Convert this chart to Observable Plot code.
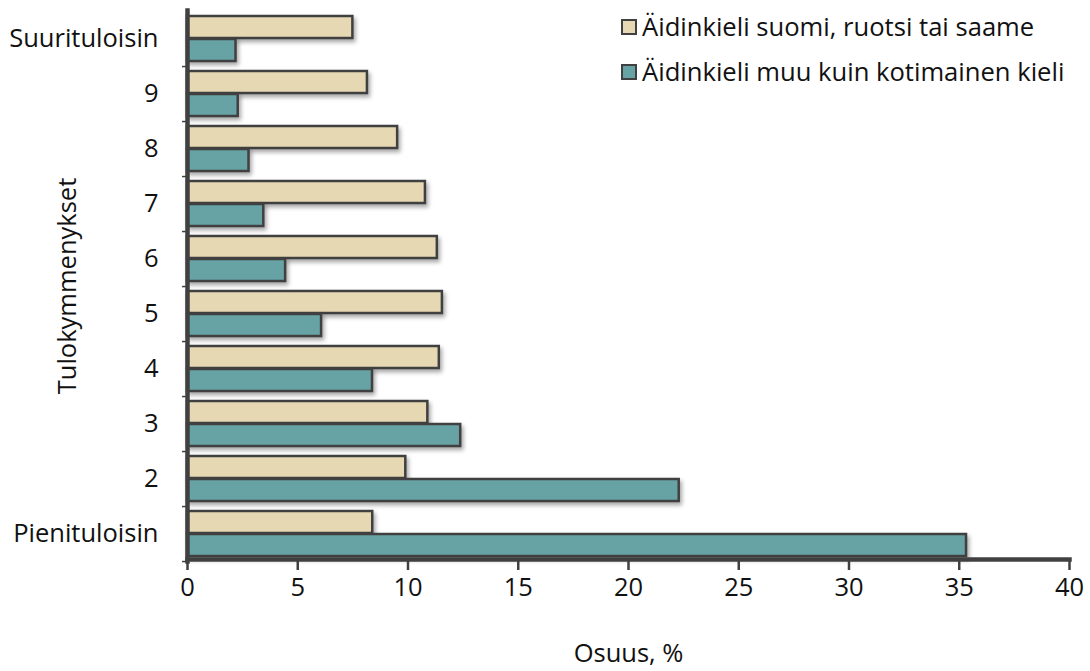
<!DOCTYPE html>
<html>
<head>
<meta charset="utf-8">
<script src="https://cdn.jsdelivr.net/npm/d3@7"></script>
<script src="https://cdn.jsdelivr.net/npm/@observablehq/plot@0.6"></script>
<style>
  html, body { margin: 0; padding: 0; background: #fff; }
  #wrap { position: relative; width: 1090px; height: 671px; font-family: "Open Sans", Lato, sans-serif; }
  #legend { position: absolute; left: 621px; top: 4px; font-size: 25.6px; color: #111; }
  .item { display: flex; align-items: center; height: 45px; }
  .sw { width: 12px; height: 12px; border: 2px solid #404040; margin-right: 5px; box-sizing: content-box; }
</style>
</head>
<body>
<div id="wrap"></div>
<script>
const categories = ["Suurituloisin", "9", "8", "7", "6", "5", "4", "3", "2", "Pienituloisin"];
const seriesNames = ["Äidinkieli suomi, ruotsi tai saame", "Äidinkieli muu kuin kotimainen kieli"];
const native = [7.5, 8.16, 9.53, 10.79, 11.33, 11.56, 11.42, 10.9, 9.9, 8.4];
const foreign = [2.2, 2.3, 2.79, 3.46, 4.45, 6.08, 8.39, 12.39, 22.3, 35.33];
const xTicks = [0, 5, 10, 15, 20, 25, 30, 35, 40];
const colors = ["#e6d8b3", "#67a2a5"];
const xLabel = "Osuus, %";
const yLabel = "Tulokymmenykset";

const nativeData = categories.map((c, i) => ({cat: c, v: native[i]}));
const foreignData = categories.map((c, i) => ({cat: c, v: foreign[i]}));

const shadow = "drop-shadow(2px 3px 2px rgba(0,0,0,0.35))";
const font = "'Open Sans', Lato, sans-serif";
const fs = 25.5;

const chart = Plot.plot({
  width: 1090,
  height: 671,
  marginLeft: 187,
  marginRight: 21,
  marginTop: 10,
  marginBottom: 110,
  style: {fontFamily: font, fontSize: fs + "px", color: "#111", background: "#fff"},
  x: {domain: [0, 40], ticks: xTicks},
  y: {domain: categories, padding: 0},
  marks: [
    Plot.barX(nativeData, {x: "v", y: "cat", fill: colors[0], stroke: "#404040", strokeWidth: 2.5, insetTop: 5, insetBottom: 28, imageFilter: shadow}),
    Plot.barX(foreignData, {x: "v", y: "cat", fill: colors[1], stroke: "#404040", strokeWidth: 2.5, insetTop: 28, insetBottom: 5, imageFilter: shadow}),
    Plot.axisX({ticks: xTicks, tickSize: 9, tickPadding: 7, stroke: "#404040", strokeWidth: 2.5, label: null, fill: "#111", fontSize: fs}),
    Plot.axisY({tickSize: 0, tickPadding: 29, label: null, fill: "#111", fontSize: fs}),
    Plot.axisY({tickSize: 5, text: null, label: null, dy: 27.55, stroke: "#404040", strokeWidth: 1.5}),
    Plot.frame({anchor: "left", stroke: "#404040", strokeWidth: 4.5}),
    Plot.frame({anchor: "bottom", stroke: "#404040", strokeWidth: 4.5, dy: -2}),
    Plot.text([xLabel], {frameAnchor: "bottom", dy: 100, fontSize: fs, fill: "#111", textAnchor: "middle"}),
    Plot.text([yLabel], {frameAnchor: "left", dx: -120, rotate: -90, fontSize: fs, fill: "#111", textAnchor: "middle"})
  ]
});

const wrap = document.getElementById("wrap");
wrap.appendChild(chart);

const legend = document.createElement("div");
legend.id = "legend";
seriesNames.forEach((name, i) => {
  const item = document.createElement("div");
  item.className = "item";
  const sw = document.createElement("div");
  sw.className = "sw";
  sw.style.background = colors[i];
  const label = document.createElement("span");
  label.textContent = name;
  item.appendChild(sw);
  item.appendChild(label);
  legend.appendChild(item);
});
wrap.appendChild(legend);
</script>
</body>
</html>
